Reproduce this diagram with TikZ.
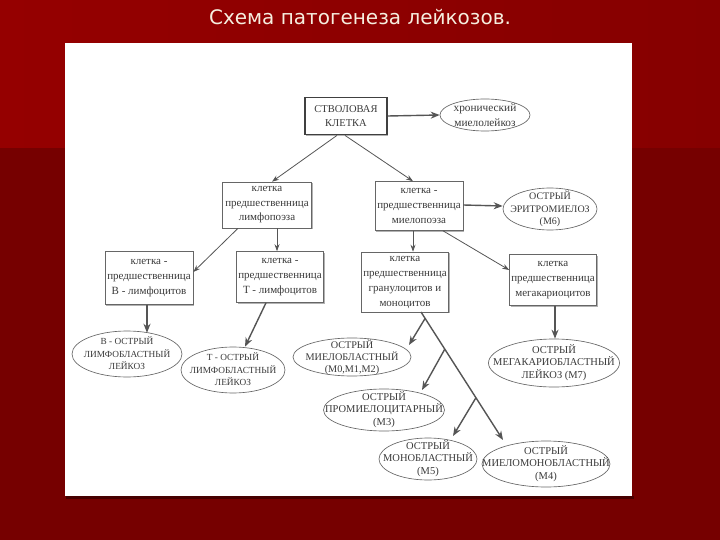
\documentclass[tikz,border=0pt]{standalone}
\usepackage{fontspec}
\setmainfont{Liberation Serif}
\newfontfamily\titlefont{DejaVu Sans}
\usetikzlibrary{arrows.meta,shapes.geometric,shadows}
\definecolor{bgdark}{HTML}{760000}
\definecolor{bgred}{HTML}{950000}
\definecolor{bgmid}{HTML}{860000}
\definecolor{ln}{HTML}{555555}
\definecolor{txt}{HTML}{3A3A3A}
\definecolor{titlec}{HTML}{F6EEDF}
\newcommand{\etext}[1]{\smash{\makebox[0pt]{\raisebox{-0.3em}{\begin{tabular}{@{}c@{}}#1\end{tabular}}}}}
\begin{document}
\begin{tikzpicture}[x=1pt,y=-1pt,
  box/.style={draw=black!60, line width=0.6pt, fill=white, align=center, inner sep=0pt,
    text=txt, font=\fontsize{11}{15}\selectfont,
    general shadow={fill=black!30, shadow xshift=1.2pt, shadow yshift=-1.2pt}},
  stembox/.style={box, draw=black!75, line width=1.8pt, font=\fontsize{10.5}{13.5}\selectfont},
  ell/.style={ellipse, draw=black!60, line width=0.65pt, fill=white, inner sep=0pt,
    text=txt, font=\fontsize{10.5}{12.8}\selectfont},
  ellsmall/.style={ell, font=\fontsize{9.3}{12.5}\selectfont},
  arrthin/.style={draw=ln, line width=0.8pt, -{Stealth[length=7pt,width=5pt]}},
  arr/.style={draw=ln, line width=1.4pt, -{Stealth[length=9pt,width=7pt]}}
]
\useasboundingbox (0,0) rectangle (720,540);
\fill[bgdark] (0,0) rectangle (720,540);
\shade[left color=bgred, right color=bgmid] (0,0) rectangle (720,148);
\fill[black!40!bgdark] (66,496) rectangle (634,499);
\fill[white] (65,43) rectangle (632,496);

\node[font=\titlefont\fontsize{20}{24}\selectfont, text=titlec] (title) at (360,17) {Схема патогенеза лейкозов.};

% boxes
\node[stembox, minimum width=82pt, minimum height=37pt] (stem) at (346,116) {СТВОЛОВАЯ\\КЛЕТКА};
\node[box, minimum width=89pt, minimum height=46pt, font=\fontsize{11}{14.5}\selectfont] (lymph) at (267,205) {клетка\\предшественница\\лимфопоэза};
\node[box, minimum width=88pt, minimum height=49pt] (myelo) at (419,206) {клетка -\\предшественница\\миелопоэза};
\node[box, minimum width=88pt, minimum height=53pt] (bcell) at (149,278) {клетка -\\предшественница\\В - лимфоцитов};
\node[box, minimum width=87pt, minimum height=51pt] (tcell) at (280,277) {клетка -\\предшественница\\Т - лимфоцитов};
\node[box, minimum width=87pt, minimum height=60pt] (gran) at (405,282) {клетка\\предшественница\\гранулоцитов и\\моноцитов};
\node[box, minimum width=87pt, minimum height=51pt] (mega) at (553,280) {клетка\\предшественница\\мегакариоцитов};

% ellipses
\node[ell, minimum width=90pt, minimum height=32pt, font=\fontsize{11.3}{15}\selectfont] (cml) at (485,115) {\etext{хронический\\миелолейкоз}};
\node[ell, minimum width=94pt, minimum height=42pt, font=\fontsize{10}{12.8}\selectfont] (m6) at (550,209) {\etext{ОСТРЫЙ\\ЭРИТРОМИЕЛОЗ\\(М6)}};
\node[ellsmall, minimum width=110pt, minimum height=46pt] (ball) at (127,354) {\etext{В - ОСТРЫЙ\\ЛИМФОБЛАСТНЫЙ\\ЛЕЙКОЗ}};
\node[ellsmall, minimum width=104pt, minimum height=46pt] (tall) at (233,370) {\etext{Т - ОСТРЫЙ\\ЛИМФОБЛАСТНЫЙ\\ЛЕЙКОЗ}};
\node[ell, minimum width=118pt, minimum height=38pt, font=\fontsize{10.2}{11.6}\selectfont] (m012) at (352,357) {\etext{ОСТРЫЙ\\МИЕЛОБЛАСТНЫЙ\\(М0,М1,М2)}};
\node[ell, minimum width=131pt, minimum height=48pt] (m7) at (554,363) {\etext{ОСТРЫЙ\\МЕГАКАРИОБЛАСТНЫЙ\\ЛЕЙКОЗ (М7)}};
\node[ell, minimum width=121pt, minimum height=42pt] (m3) at (384,410) {\etext{ОСТРЫЙ\\ПРОМИЕЛОЦИТАРНЫЙ\\(М3)}};
\node[ell, minimum width=98pt, minimum height=42pt] (m5) at (428,459) {\etext{ОСТРЫЙ\\МОНОБЛАСТНЫЙ\\(М5)}};
\node[ell, minimum width=128pt, minimum height=46pt] (m4) at (546,464) {\etext{ОСТРЫЙ\\МИЕЛОМОНОБЛАСТНЫЙ\\(М4)}};

% connectors
\draw[arr] (stem.east) -- (cml.west);
\draw[arrthin] ([xshift=-9pt]stem.south) -- ([xshift=5pt]lymph.north);
\draw[arrthin] ([xshift=-1pt]stem.south) -- ([xshift=-6pt]myelo.north);
\draw[arr] ([yshift=1pt]myelo.east) -- ([yshift=3pt]m6.west);
\draw[arrthin] ([xshift=-29pt]lymph.south) -- ([yshift=6pt]bcell.east);
\draw[arrthin] ([xshift=10pt]lymph.south) -- ([xshift=-3pt]tcell.north);
\draw[arrthin] ([xshift=-6pt]myelo.south) -- ([xshift=8pt]gran.north);
\draw[arrthin] ([xshift=24pt]myelo.south) -- ([yshift=10pt]mega.west);
\draw[arr] ([xshift=-2pt]bcell.south) -- ++(0,28);
\draw[arr] ([xshift=-14pt]tcell.south) -- ([xshift=12pt]tall.north);
\draw[arr] ([xshift=2pt]mega.south) -- ([xshift=1pt]m7.north);

\coordinate (t0) at (421,312);
\coordinate (t4) at (503,440);
\path (t0) -- (t4) coordinate[pos=0.05] (b1) coordinate[pos=0.29] (b2) coordinate[pos=0.67] (b3);
\coordinate (e1) at (409,345);
\coordinate (e2) at (422,390);
\coordinate (e3) at (453,436);
\draw[arr] (t0) -- (t4);
\draw[arr] (b1) -- (e1);
\draw[arr] (b2) -- (e2);
\draw[arr] (b3) -- (e3);
\end{tikzpicture}
\end{document}
